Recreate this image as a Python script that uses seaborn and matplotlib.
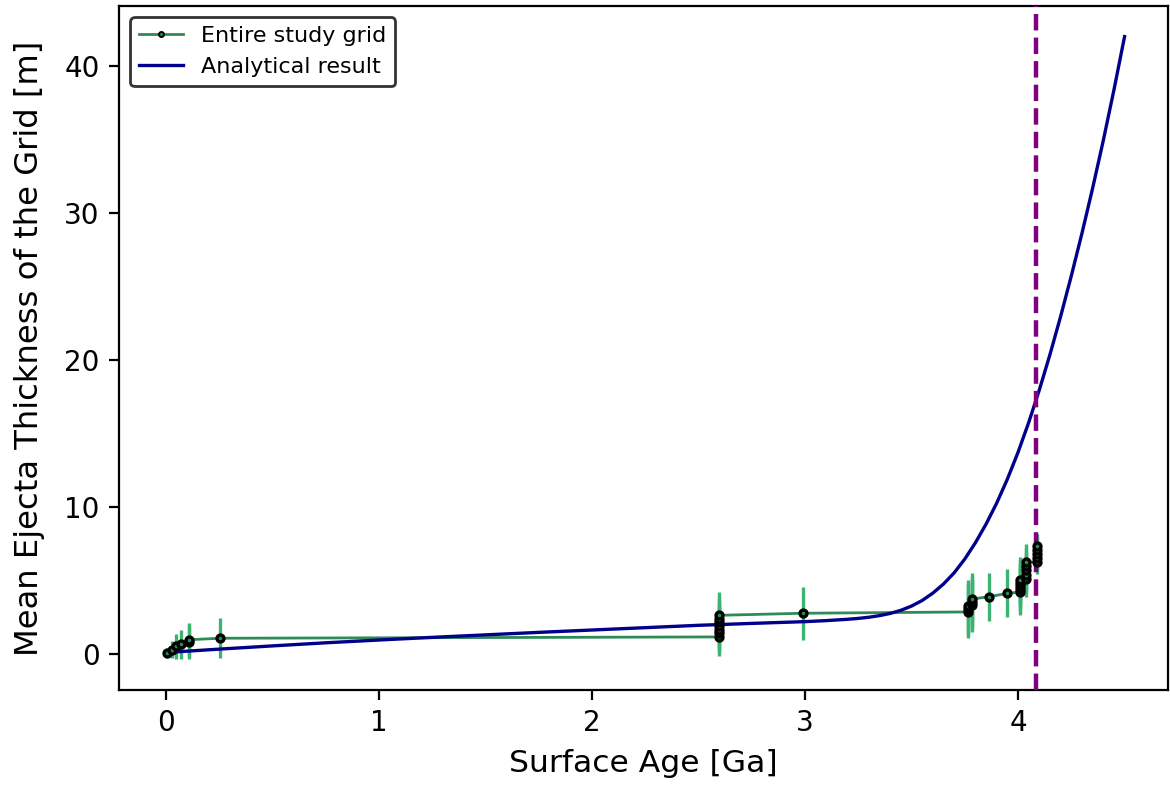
import matplotlib
matplotlib.use("Agg")
import matplotlib.pyplot as plt
from matplotlib.lines import Line2D
import seaborn as sns
import pandas as pd

# ---- data ----
ages = [0.006, 0.027, 0.047, 0.070, 0.109, 0.109, 0.254,
        2.596, 2.596, 2.596, 2.596, 2.596, 2.596, 2.596,
        2.990,
        3.763, 3.763, 3.763,
        3.786, 3.786, 3.786,
        3.864, 3.950,
        4.009, 4.009, 4.009, 4.009, 4.009,
        4.035, 4.035, 4.035, 4.035, 4.035,
        4.087, 4.087, 4.087, 4.087, 4.087]
thickness = [0.05, 0.30, 0.52, 0.66, 0.82, 0.97, 1.07,
             1.16, 1.40, 1.65, 1.90, 2.15, 2.40, 2.63,
             2.77,
             2.86, 3.05, 3.24,
             3.31, 3.52, 3.74,
             3.90, 4.12,
             4.22, 4.43, 4.64, 4.85, 5.06,
             5.12, 5.40, 5.68, 5.96, 6.24,
             6.26, 6.54, 6.82, 7.10, 7.37]
errors = [0.35, 0.60, 0.85, 1.00, 1.15, 1.15, 1.35,
          1.30, 1.35, 1.40, 1.45, 1.50, 1.55, 1.60,
          1.80,
          1.80, 1.80, 1.80,
          1.80, 1.80, 1.80,
          1.63, 1.63,
          1.55, 1.55, 1.55, 1.55, 1.55,
          1.25, 1.25, 1.25, 1.25, 1.25,
          0.80, 0.80, 0.80, 0.80, 0.80]

analytic_age = [0.0, 0.25, 0.5, 0.75, 1.0, 1.25, 1.5, 1.75, 2.0, 2.25, 2.5, 2.75,
                3.0, 3.1, 3.2, 3.25, 3.3, 3.35, 3.4, 3.45, 3.5, 3.55, 3.6, 3.65,
                3.7, 3.75, 3.8, 3.85, 3.9, 3.95, 4.0, 4.05, 4.1, 4.15, 4.2, 4.25,
                4.3, 4.35, 4.4, 4.45, 4.5]
analytic_thick = [0.10, 0.33, 0.55, 0.76, 0.95, 1.13, 1.30, 1.47, 1.63, 1.79, 1.95, 2.08,
                  2.20, 2.27, 2.36, 2.42, 2.50, 2.61, 2.76, 2.97, 3.26, 3.64, 4.14, 4.76,
                  5.52, 6.46, 7.57, 8.84, 10.27, 11.90, 13.72, 15.75, 17.97, 20.38, 22.97, 25.72,
                  28.62, 31.68, 34.92, 38.36, 42.0]

max_age = 4.085

series_label = "Entire study grid"
analytic_label = "Analytical result"
x_label = "Surface Age [Ga]"
y_label = "Mean Ejecta Thickness of the Grid [m]"

df = pd.DataFrame({"age": ages, "thick": thickness, "err": errors})
an = pd.DataFrame({"age": analytic_age, "thick": analytic_thick})

fig = plt.figure(figsize=(5.85, 3.97), dpi=200)
ax = fig.add_axes([0.1017, 0.131, 0.8966, 0.8614])

ax.errorbar(df["age"], df["thick"], yerr=df["err"], fmt="none",
            ecolor="mediumseagreen", elinewidth=1.2, capsize=0, zorder=1)
sns.lineplot(data=df, x="age", y="thick", estimator=None, sort=False,
             color="seagreen", linewidth=1.0, ax=ax, legend=False, zorder=2)
sns.lineplot(data=an, x="age", y="thick", estimator=None, sort=False,
             color="darkblue", linewidth=1.2, ax=ax, legend=False, zorder=3)
ax.axvline(max_age, color="purple", linestyle="--", linewidth=1.6, zorder=3)
ax.plot(df["age"], df["thick"], linestyle="none", marker="o", ms=2.5,
        mfc="seagreen", mec="k", mew=1.2, zorder=4)

ax.set_xlim(-0.2207, 4.704)
ax.set_ylim(-2.45, 44.08)
ax.set_xticks([0, 1, 2, 3, 4])
ax.set_yticks([0, 10, 20, 30, 40])
ax.tick_params(labelsize=10)
ax.set_xlabel(x_label, fontsize=11.3)
ax.set_ylabel(y_label, fontsize=11.6, labelpad=7)

handles = [Line2D([], [], color="seagreen", linewidth=1.0, marker="o", ms=1.8,
                  mfc="seagreen", mec="k", mew=0.7),
           Line2D([], [], color="darkblue", linewidth=1.2)]
leg = ax.legend(handles, [series_label, analytic_label], loc="upper left",
                fontsize=8, edgecolor="k", fancybox=True)
leg.get_frame().set_linewidth(1.0)

fig.savefig("out.png", dpi=200)
